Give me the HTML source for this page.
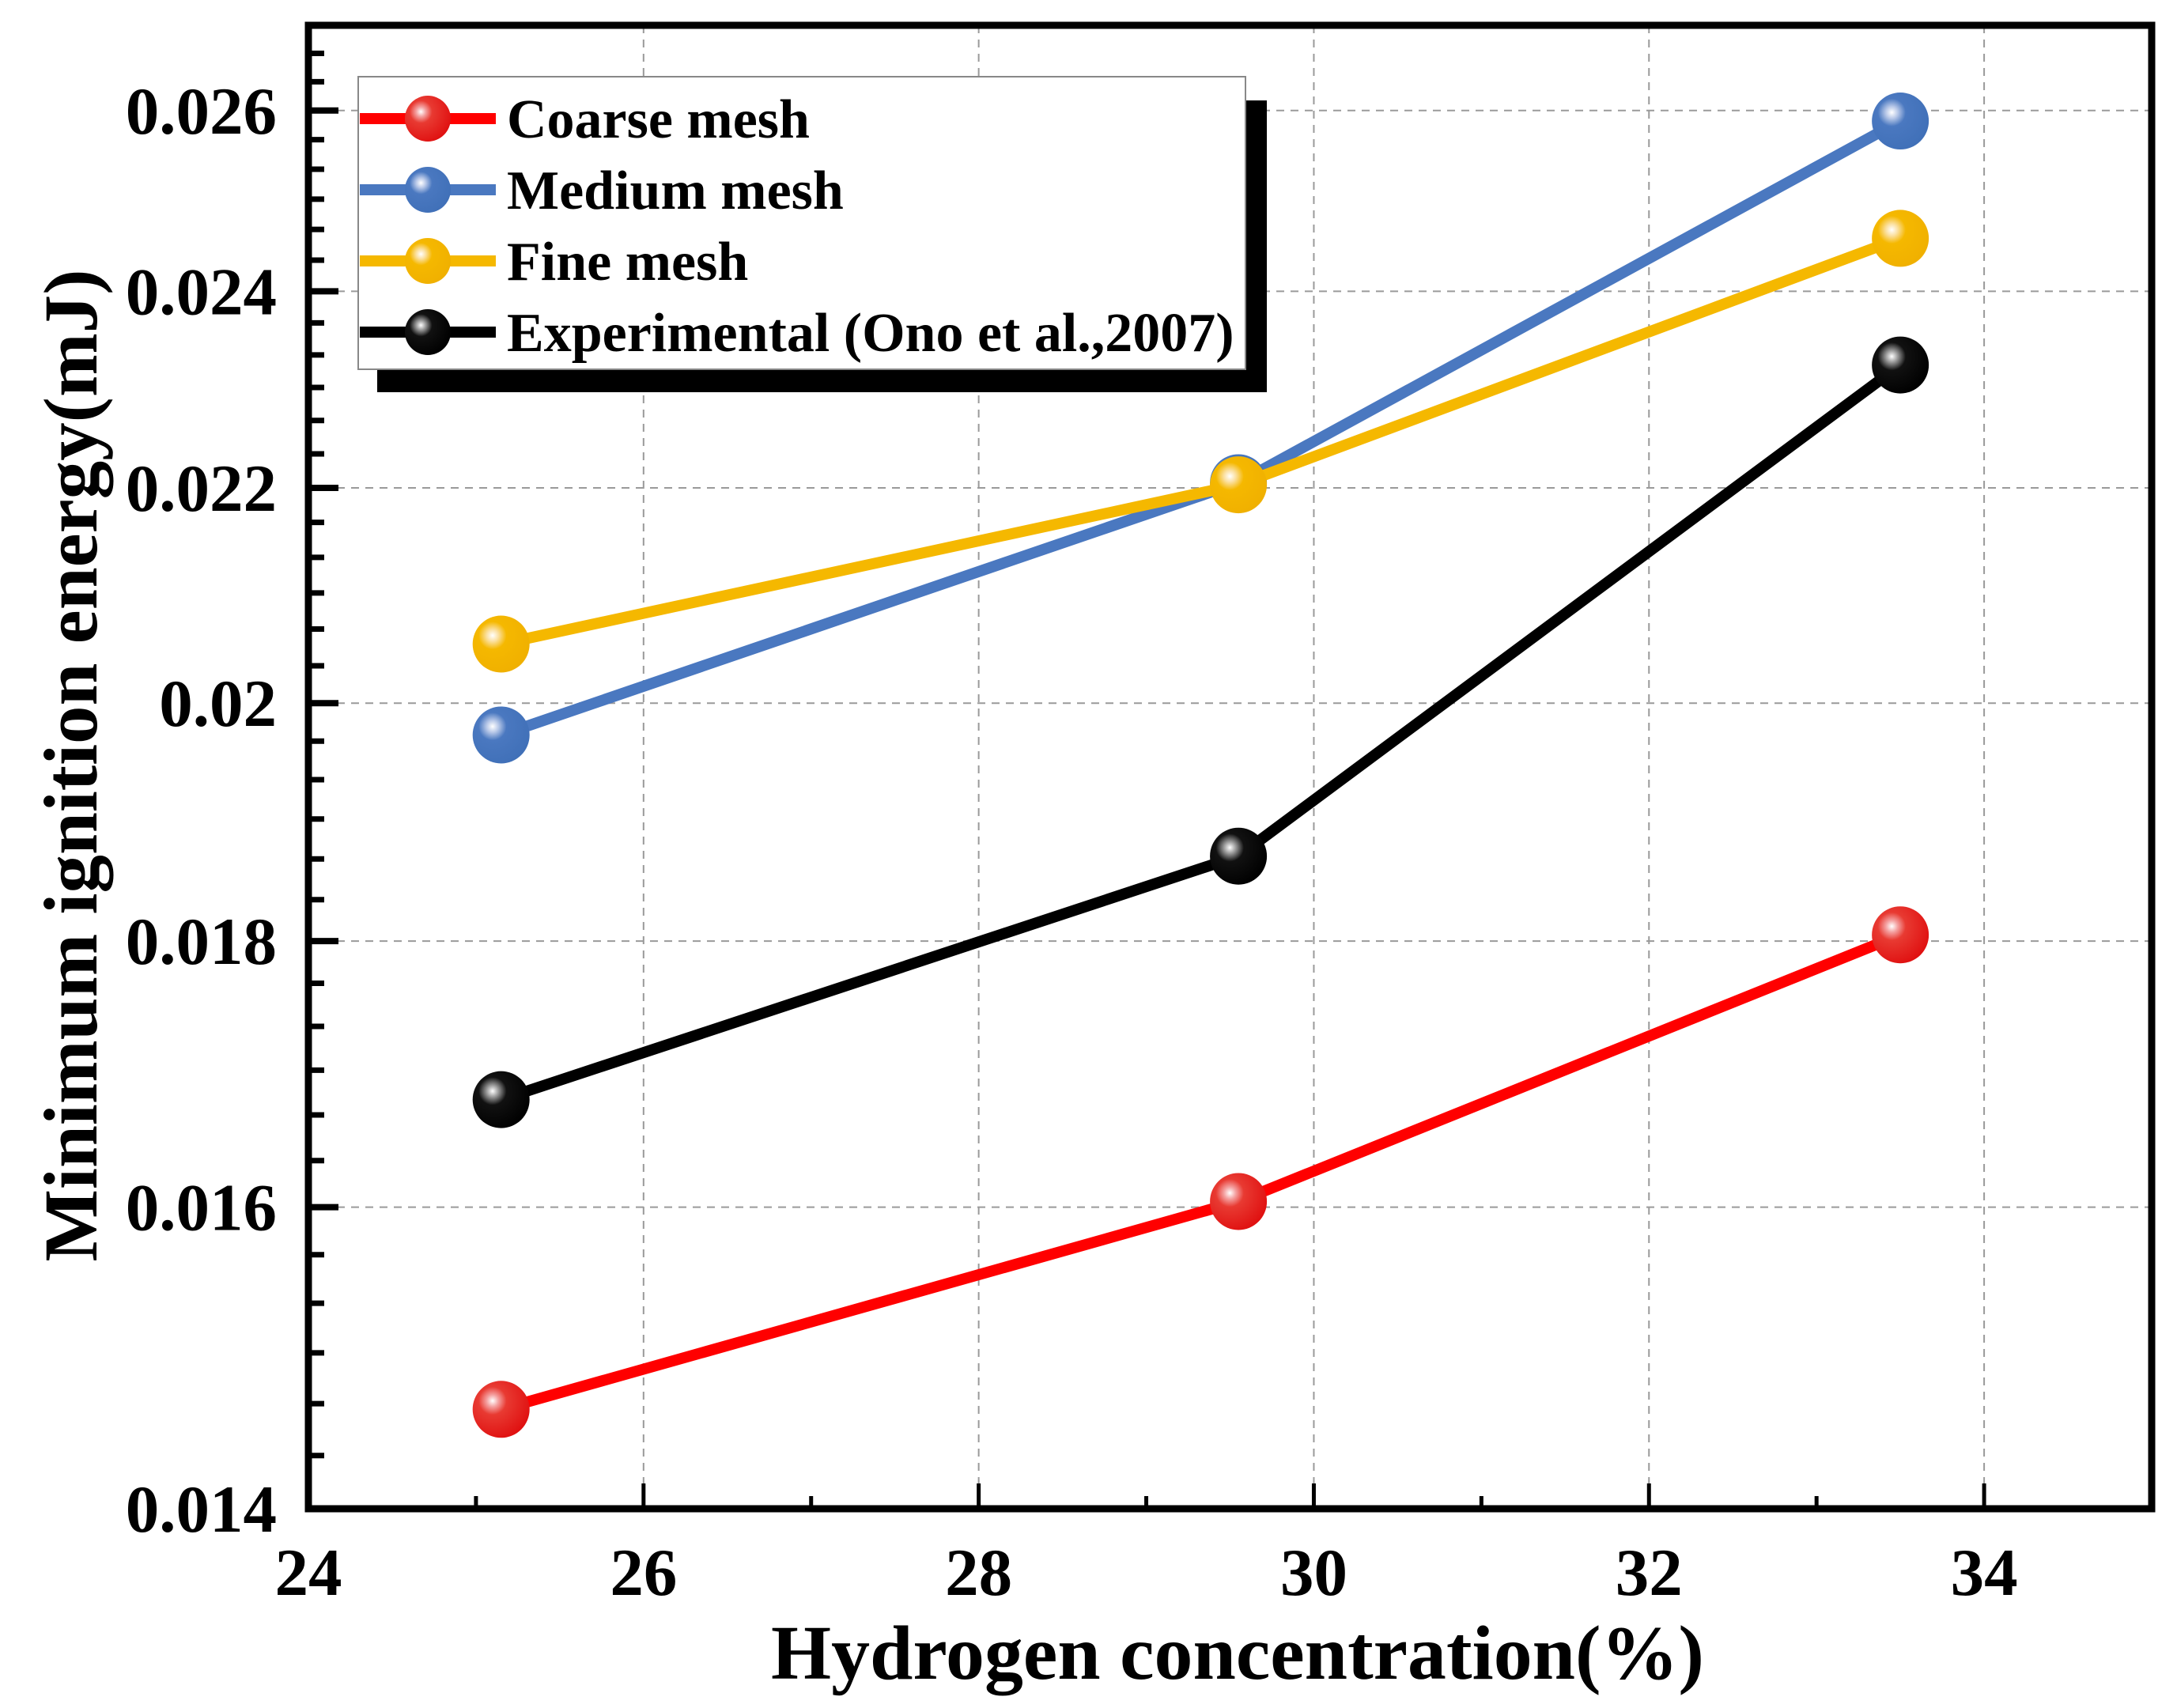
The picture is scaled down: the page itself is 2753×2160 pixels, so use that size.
<!DOCTYPE html>
<html><head><meta charset="utf-8"><style>
html,body{margin:0;padding:0;background:#fff;}
svg{display:block;}
text{font-family:"Liberation Serif",serif;font-weight:bold;fill:#000;}
</style></head><body>
<svg id="chart" width="2753" height="2160" viewBox="0 0 2753 2160" xmlns="http://www.w3.org/2000/svg">
<defs>
<radialGradient id="g-red" cx="0.35" cy="0.35" r="0.7"><stop offset="0" stop-color="#fff"/><stop offset="0.15" stop-color="#f4a0a0"/><stop offset="0.35" stop-color="#e83a32"/><stop offset="1" stop-color="#e01010"/></radialGradient>
<radialGradient id="g-blue" cx="0.35" cy="0.35" r="0.7"><stop offset="0" stop-color="#fff"/><stop offset="0.15" stop-color="#b8c8e8"/><stop offset="0.35" stop-color="#4a78c0"/><stop offset="1" stop-color="#4070b8"/></radialGradient>
<radialGradient id="g-yellow" cx="0.35" cy="0.35" r="0.7"><stop offset="0" stop-color="#fff"/><stop offset="0.15" stop-color="#fbe0a0"/><stop offset="0.35" stop-color="#f5b800"/><stop offset="1" stop-color="#f0b000"/></radialGradient>
<radialGradient id="g-black" cx="0.35" cy="0.35" r="0.7"><stop offset="0" stop-color="#fff"/><stop offset="0.15" stop-color="#999"/><stop offset="0.35" stop-color="#111"/><stop offset="1" stop-color="#000"/></radialGradient>
</defs>
<g id="grid"></g>
<g id="series"></g>
<g id="axes"></g>
<g id="legend"></g>
<text x="1565" y="2123" font-size="98" text-anchor="middle" textLength="1180" lengthAdjust="spacingAndGlyphs">Hydrogen concentration(%)</text>
<text transform="translate(122,968) rotate(-90)" x="0" y="0" font-size="96" text-anchor="middle" textLength="1255" lengthAdjust="spacingAndGlyphs">Minimum ignition energy(mJ)</text>
</svg>
<script>
const xValues = [25.15, 29.55, 33.5];
const seriesNames = ["Coarse mesh", "Medium mesh", "Fine mesh", "Experimental (Ono et al.,2007)"];
const coarse = [0.01463, 0.01604, 0.01805];
const medium = [0.01972, 0.02205, 0.02588];
const fine = [0.02053, 0.02203, 0.02457];
const experimental = [0.01678, 0.01869, 0.02323];
const xTicks = [24, 26, 28, 30, 32, 34];
const xTickLabels = ["24", "26", "28", "30", "32", "34"];
const yTicks = [0.014, 0.016, 0.018, 0.020, 0.022, 0.024, 0.026];
const yTickLabels = ["0.014", "0.016", "0.018", "0.02", "0.022", "0.024", "0.026"];

const NS = "http://www.w3.org/2000/svg";
const L = 390, R = 2721, T = 32, B = 1908;
const XMIN = 24, XMAX = 35, YMIN = 0.014, YMAX = 0.027;
function xs(v){ return L + (v - XMIN) / (XMAX - XMIN) * (R - L); }
function ys(v){ return B - Math.log(v / YMIN) / Math.log(YMAX / YMIN) * (B - T); }
function mk(tag, attrs, parent){ const e = document.createElementNS(NS, tag); for (const k in attrs) e.setAttribute(k, attrs[k]); parent.appendChild(e); return e; }

const grid = document.getElementById('grid');
const axes = document.getElementById('axes');
const seriesG = document.getElementById('series');
const legend = document.getElementById('legend');

xTicks.forEach((t, i) => {
  if (t > XMIN) {
    const g = mk('line', {x1: xs(t), x2: xs(t), y1: T, y2: B, stroke: '#9a9a9a', 'stroke-width': 2, 'stroke-dasharray': '10,8'}, grid);
    
    
  }
  const tk = mk('line', {x1: xs(t), x2: xs(t), y1: B, y2: B - 32, stroke: '#000', 'stroke-width': 5}, axes);
  
  
  const lb = mk('text', {x: xs(t), y: 2017, 'font-size': 85, 'text-anchor': 'middle'}, axes);
  lb.textContent = xTickLabels[i];
  
  
  if (t + 1 < XMAX) {
    const mt = mk('line', {x1: xs(t + 1), x2: xs(t + 1), y1: B, y2: B - 16, stroke: '#000', 'stroke-width': 5}, axes);
    
    
  }
});
yTicks.forEach((t, i) => {
  if (t > YMIN) {
    const g = mk('line', {x1: L, x2: R, y1: ys(t), y2: ys(t), stroke: '#9a9a9a', 'stroke-width': 2, 'stroke-dasharray': '10,8'}, grid);
    
    
  }
  const tk = mk('line', {x1: L, x2: L + 38, y1: ys(t), y2: ys(t), stroke: '#000', 'stroke-width': 8}, axes);
  
  
  const lb = mk('text', {x: 350, y: ys(t) + 29, 'font-size': 85, 'text-anchor': 'end'}, axes);
  lb.textContent = yTickLabels[i];
  
  
  for (let k = 1; k < 6; k++) {
    const v = t + k * 0.002 / 6;
    if (v >= YMAX) break;
    const mt = mk('line', {x1: L, x2: L + 20, y1: ys(v), y2: ys(v), stroke: '#000', 'stroke-width': 7}, axes);
    
    
  }
});
const frame = mk('rect', {x: L, y: T, width: R - L, height: B - T, fill: 'none', stroke: '#000', 'stroke-width': 9}, axes);



const defs = [
  {data: coarse, color: '#ff0000', grad: 'g-red', name: 'coarse-mesh'},
  {data: medium, color: '#4a78c0', grad: 'g-blue', name: 'medium-mesh'},
  {data: fine, color: '#f5b800', grad: 'g-yellow', name: 'fine-mesh'},
  {data: experimental, color: '#000000', grad: 'g-black', name: 'experimental'}
];
defs.forEach(s => {
  const pts = s.data.map((v, i) => xs(xValues[i]) + ',' + ys(v)).join(' ');
  const pl = mk('polyline', {points: pts, fill: 'none', stroke: s.color, 'stroke-width': 14, 'stroke-linejoin': 'round'}, seriesG);
  
  
  s.data.forEach((v, i) => {
    const c = mk('circle', {cx: xs(xValues[i]), cy: ys(v), r: 36, fill: 'url(#' + s.grad + ')'}, seriesG);
    
    
  });
});

const sh = mk('rect', {x: 477, y: 127, width: 1125, height: 369, fill: '#000'}, legend);


const box = mk('rect', {x: 453, y: 97, width: 1122, height: 370, fill: '#fff', stroke: '#888', 'stroke-width': 2}, legend);


const ly = [150, 240, 330, 420];
defs.forEach((s, i) => {
  const ln = mk('line', {x1: 455, x2: 627, y1: ly[i], y2: ly[i], stroke: s.color, 'stroke-width': 14}, legend);
  
  
  const c = mk('circle', {cx: 541, cy: ly[i], r: 29, fill: 'url(#' + s.grad + ')'}, legend);
  
  
  const t = mk('text', {x: 641, y: ly[i] + 24, 'font-size': 70}, legend);
  t.textContent = seriesNames[i];
  
  
});
</script>
</body></html>
